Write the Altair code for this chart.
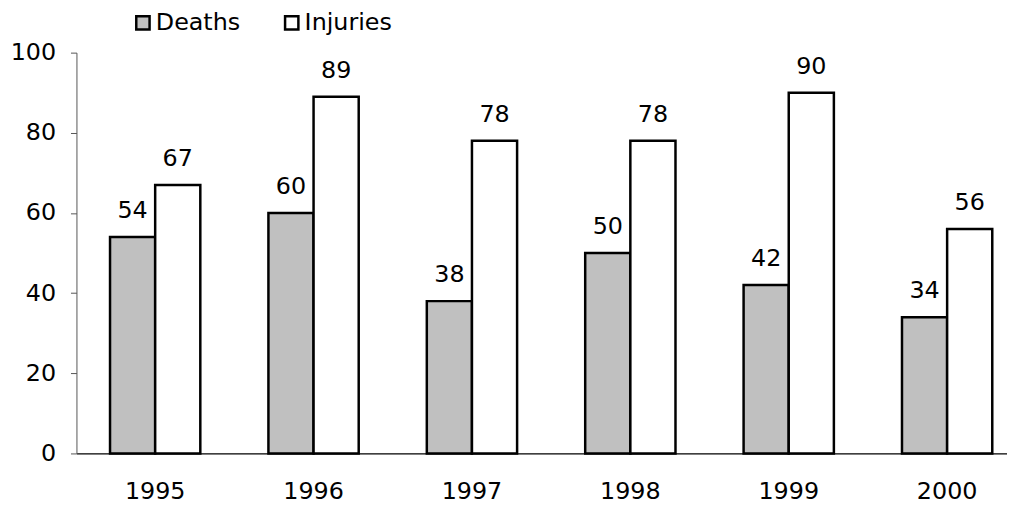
import altair as alt
import pandas as pd

years = ["1995", "1996", "1997", "1998", "1999", "2000"]
deaths = [54, 60, 38, 50, 42, 34]
injuries = [67, 89, 78, 78, 90, 56]
series = ["Deaths", "Injuries"]
colors = ["#c0c0c0", "#ffffff"]

rows = []
for y, d, i in zip(years, deaths, injuries):
    rows.append({"year": y, "series": "Deaths", "value": d})
    rows.append({"year": y, "series": "Injuries", "value": i})
df = pd.DataFrame(rows)

FONT = "DejaVu Sans"
FS = 24

x = alt.X("year:N", sort=years, title=None,
          scale=alt.Scale(paddingInner=0.43, paddingOuter=0.212),
          axis=alt.Axis(labelAngle=0, ticks=False, domainColor="#000000",
                        labelFontSize=FS, labelColor="#000000", labelPadding=26,
                        labelFont=FONT, domainWidth=1.2))
xo = alt.XOffset("series:N", sort=series)
y = alt.Y("value:Q", title=None,
          scale=alt.Scale(domain=[0, 100], nice=False),
          axis=alt.Axis(values=[0, 20, 40, 60, 80, 100], grid=False,
                        tickSize=6, tickColor="#555555", domainColor="#555555",
                        labelFontSize=FS, labelColor="#000000", labelPadding=15,
                        labelFont=FONT))

bars = alt.Chart(df).mark_bar(stroke="#000000", strokeWidth=2.5).encode(
    x=x, xOffset=xo, y=y,
    fill=alt.Fill("series:N", sort=series,
                  scale=alt.Scale(domain=series, range=colors),
                  legend=alt.Legend(title=None, orient="none", direction="horizontal",
                                    legendX=55, legendY=-42,
                                    symbolType="square", symbolSize=180,
                                    symbolStrokeColor="#000000", symbolStrokeWidth=2.5,
                                    labelFontSize=FS, labelFont=FONT, labelColor="#000000",
                                    labelOffset=1, columnPadding=39)),
)

labels = alt.Chart(df).mark_text(fontSize=FS, font=FONT, color="#000000",
                                 baseline="alphabetic", dy=-19).encode(
    x=x, xOffset=xo, y=y, text="value:Q"
)

chart = (bars + labels).properties(
    width=957, height=404,
    padding={"left": 69, "top": 43, "right": -19, "bottom": 52},
    autosize=alt.AutoSizeParams(type="none"),
).configure(background="#ffffff").configure_view(stroke=None)

chart.save("out.html", embed_options={"renderer": "svg", "actions": False})
